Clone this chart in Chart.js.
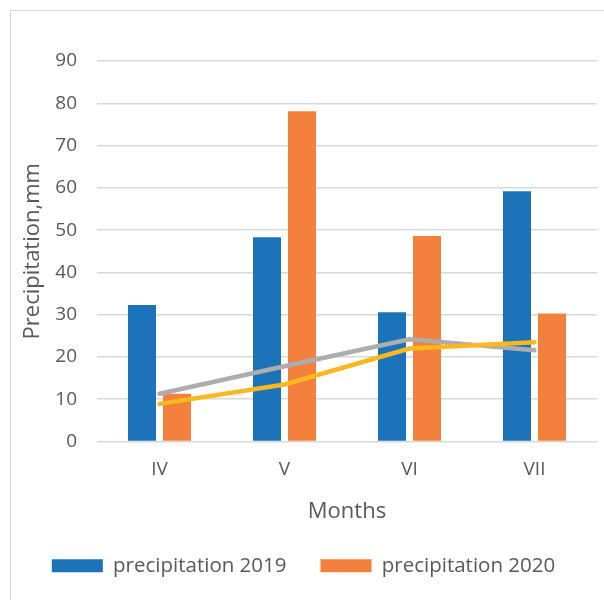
<!DOCTYPE html>
<html>
<head>
<meta charset="utf-8">
<script src="https://cdn.jsdelivr.net/npm/chart.js@4"></script>
<style>
  html, body { margin: 0; padding: 0; background: #fff; }
  #wrap { position: relative; width: 604px; height: 600px; }
  #frame { position: absolute; left: 10px; top: 10px; width: 600px; height: 600px; border: 1px solid #d9d9d9; box-sizing: border-box; }
  canvas { position: absolute; left: 0; top: 0; }
</style>
</head>
<body>
<div id="wrap">
  <div id="frame"></div>
  <canvas id="chart" width="604" height="600"></canvas>
</div>
<script>
const months = ["IV", "V", "VI", "VII"];
const precip2019 = [32.3, 48.3, 30.6, 59.2];
const precip2020 = [11.3, 78.1, 48.6, 30.3];
const trendGray = [11.3, 17.8, 24.2, 21.6];
const trendYellow = [8.9, 13.5, 22.0, 23.5];

const C = {
  blue: "#1C73BA",
  orange: "#F3813D",
  gray: "#ADADAD",
  yellow: "#FDB71F",
  text: "#595959",
  grid: "#D9D9D9"
};

const FONT = "'Open Sans', sans-serif";

new Chart(document.getElementById("chart"), {
  type: "bar",
  data: {
    labels: months,
    datasets: [
      {
        type: "line",
        label: "trend 2020",
        data: trendYellow,
        borderColor: C.yellow,
        borderWidth: 4.5,
        pointRadius: 0,
        borderCapStyle: "round",
        tension: 0,
        order: 0
      },
      {
        type: "line",
        label: "trend 2019",
        data: trendGray,
        borderColor: C.gray,
        borderWidth: 4.5,
        pointRadius: 0,
        borderCapStyle: "round",
        tension: 0,
        order: 1
      },
      {
        label: "precipitation 2019",
        data: precip2019,
        backgroundColor: C.blue,
        categoryPercentage: 0.56,
        barPercentage: 0.8,
        order: 2
      },
      {
        label: "precipitation 2020",
        data: precip2020,
        backgroundColor: C.orange,
        categoryPercentage: 0.56,
        barPercentage: 0.8,
        order: 2
      }
    ]
  },
  options: {
    responsive: false,
    animation: false,
    layout: { padding: { left: 10, right: 7, top: 61, bottom: 14 } },
    plugins: {
      tooltip: { enabled: false },
      legend: {
        position: "bottom",
        labels: {
          filter: item => item.text.startsWith("precipitation"),
          boxWidth: 51,
          boxHeight: 13,
          padding: 34,
          color: C.text,
          font: { family: FONT, size: 20.5 }
        }
      }
    },
    scales: {
      x: {
        grid: { display: false },
        border: { display: false },
        ticks: { color: C.text, padding: 9, font: { family: FONT, size: 19 } },
        title: { display: true, text: "Months", color: C.text, padding: { top: 8, bottom: -3 }, font: { family: FONT, size: 22 } },
        afterFit: s => { s.height = 80; }
      },
      y: {
        min: 0,
        max: 90,
        ticks: { stepSize: 10, color: C.text, padding: 20, font: { family: FONT, size: 19 } },
        grid: { color: C.grid, lineWidth: 1.5, drawTicks: false },
        border: { display: false },
        title: { display: true, text: "Precipitation,mm", color: C.text, padding: { top: 10, bottom: 0 }, font: { family: FONT, size: 22 } },
        afterFit: s => { s.width = 87; }
      }
    }
  }
});
</script>
</body>
</html>
